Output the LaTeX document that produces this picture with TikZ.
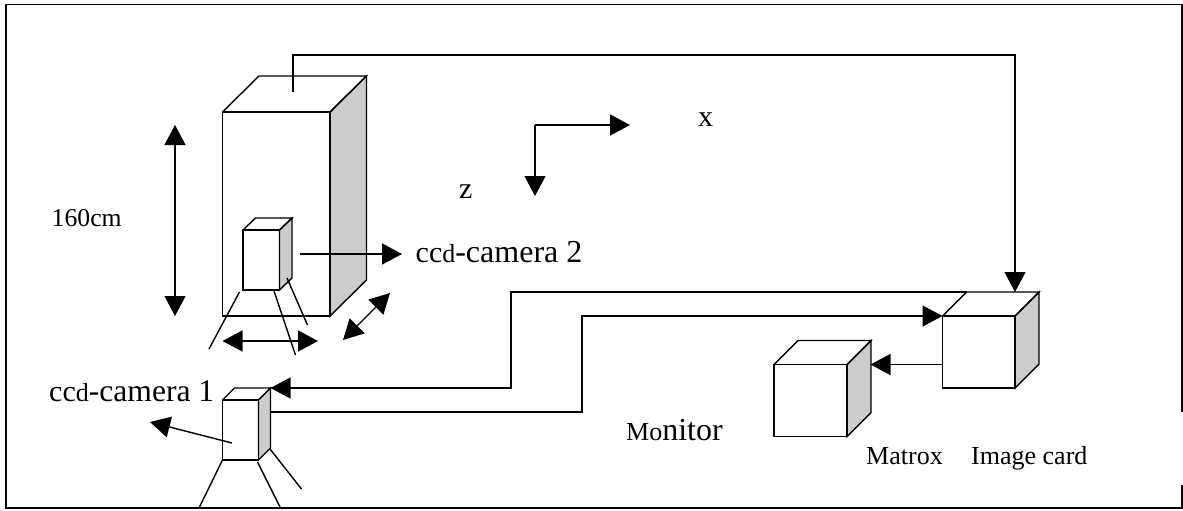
\documentclass[tikz,border=0pt]{standalone}
\usepackage{fontspec}
\setmainfont{Liberation Serif}
\usetikzlibrary{arrows.meta}
\definecolor{sidegray}{gray}{0.8}
\newcommand{\fsz}[1]{\fontsize{#1}{#1}\selectfont}
\tikzset{
  ln/.style={line width=1.4pt,draw=black},
  side/.style={ln,fill=sidegray,line join=miter},
  tip/.style={ln,-{Triangle[length=20pt,width=21pt]}},
  dbl/.style={ln,{Triangle[length=20pt,width=21pt]}-{Triangle[length=20pt,width=21pt]}},
  lbl/.style={inner sep=0pt,anchor=base west,text=black}
}
% #1 name, #2 x front left, #3 y front top, #4 front w, #5 front h, #6 depth x, #7 depth y
\newcommand{\cuboid}[7]{%
  \coordinate (#1-fl) at (#2,#3);
  \coordinate (#1-fr) at ({#2+#4},#3);
  \coordinate (#1-br) at ({#2+#4},{#3+#5});
  \coordinate (#1-bl) at (#2,{#3+#5});
  \coordinate (#1-tl) at ({#2+#6},{#3-#7});
  \coordinate (#1-tr) at ({#2+#4+#6},{#3-#7});
  \coordinate (#1-sb) at ({#2+#4+#6},{#3+#5-#7});
  \draw[side] (#1-fr) -- (#1-tr) -- (#1-sb) -- (#1-br) -- cycle;
  \draw[ln,line join=miter] (#1-fl) -- (#1-fr) -- (#1-br) -- (#1-bl) -- cycle;
  \draw[ln,line join=miter] (#1-fl) -- (#1-tl) -- (#1-tr) -- (#1-fr);
}
\begin{document}
\begin{tikzpicture}[x=1pt,y=-1pt]
\useasboundingbox (0,0) rectangle (1183,511);
\fill[white] (0,0) rectangle (1183,511);
% frame
\coordinate (f1) at (1182,412);
\coordinate (f2) at (1182,4.5);
\coordinate (f3) at (6,4.5);
\coordinate (f4) at (6,508);
\coordinate (f5) at (1182,508);
\coordinate (f6) at (1182,485);
\draw[line width=1.8pt] (f1) -- (f2) -- (f3) -- (f4) -- (f5) -- (f6);
% cuboids
\cuboid{tower}{222.5}{112}{107.5}{204}{36.5}{36}
\cuboid{cam2}{243}{230}{36.5}{60}{12.5}{12}
\cuboid{cam1}{222.5}{400}{36}{60}{12}{12}
\cuboid{card}{942.5}{316}{72.5}{72}{24}{24}
\cuboid{mon}{774}{364.5}{73}{72}{24}{24}
% tower wire
\coordinate (w0) at (293,91.5);
\coordinate (w1) at (293,55);
\coordinate (w2) at (1015,55);
\coordinate (w3) at (1015,292);
\draw[tip,line join=miter] (w0) -- (w1) -- (w2) -- (w3);
% camera 1 wires
\coordinate (a1) at (511,388);
\coordinate (a2) at (511,292);
\draw[tip,line join=miter] (card-tl) -- (a2) -- (a1) -- (cam1-tr);
\coordinate (b0) at (270.5,412);
\coordinate (b1) at (582,412);
\coordinate (b2) at (582,316);
\draw[tip,line join=miter] (b0) -- (b1) -- (b2) -- (card-fl);
% card to monitor
\coordinate (c0) at (942.5,364.5);
\coordinate (c1) at (870.5,364.5);
\draw[tip] (c0) -- (c1);
% height
\coordinate (h0) at (175,125);
\coordinate (h1) at (175,316);
\draw[dbl] (h0) -- (h1);
% horizontal and depth
\coordinate (d0) at (222.5,341);
\coordinate (d1) at (318,341);
\draw[dbl] (d0) -- (d1);
\coordinate (e0) at (343,340);
\coordinate (e1) at (390,293);
\draw[dbl] (e0) -- (e1);
% camera 2 view
\coordinate (g0) at (299.5,254);
\coordinate (g1) at (402,254);
\draw[tip] (g0) -- (g1);
% camera 1 view
\coordinate (k0) at (232,443);
\coordinate (k1) at (150,422);
\draw[tip] (k0) -- (k1);
% camera 2 legs
\coordinate (l1a) at (239.5,292); \coordinate (l1b) at (209,349);
\coordinate (l2a) at (274,291); \coordinate (l2b) at (295.5,355);
\coordinate (l3a) at (287,278); \coordinate (l3b) at (307.5,325);
\draw[ln] (l1a) -- (l1b);
\draw[ln] (l2a) -- (l2b);
\draw[ln] (l3a) -- (l3b);
% camera 1 legs
\coordinate (m1b) at (199,508);
\coordinate (m2a) at (257.5,462); \coordinate (m2b) at (280,507);
\coordinate (m3a) at (270,449); \coordinate (m3b) at (301.5,489);
\draw[ln] (cam1-bl) -- (m1b);
\draw[ln] (m2a) -- (m2b);
\draw[ln] (m3a) -- (m3b);
% axes
\coordinate (o) at (535,125);
\coordinate (ox) at (630,125);
\coordinate (oz) at (535,196);
\draw[tip] (o) -- (ox);
\draw[tip] (o) -- (oz);
% labels
\node[lbl,font=\fsz{30}] (lx) at (698,126.5) {x};
\node[lbl,font=\fsz{30}] (lz) at (459,198.5) {z};
\node[lbl,font=\fsz{25.7}] (l160) at (51.5,226) {160cm};
\node[lbl,font=\fsz{32}] (lc2) at (415.5,262) {{\fsz{30}cc}{\fsz{26}d}-camera 2};
\node[lbl,font=\fsz{31.6}] (lc1) at (49,401) {{\fsz{30}cc}{\fsz{26}d}-camera 1};
\node[lbl,font=\fsz{32}] (lm) at (626,440.5) {{\fsz{26}Mo}nitor};
\node[lbl,font=\fsz{26}] (lmx) at (866,464) {Matrox};
\node[lbl,font=\fsz{26}] (lic) at (971,464) {Image card};
\end{tikzpicture}
\end{document}
